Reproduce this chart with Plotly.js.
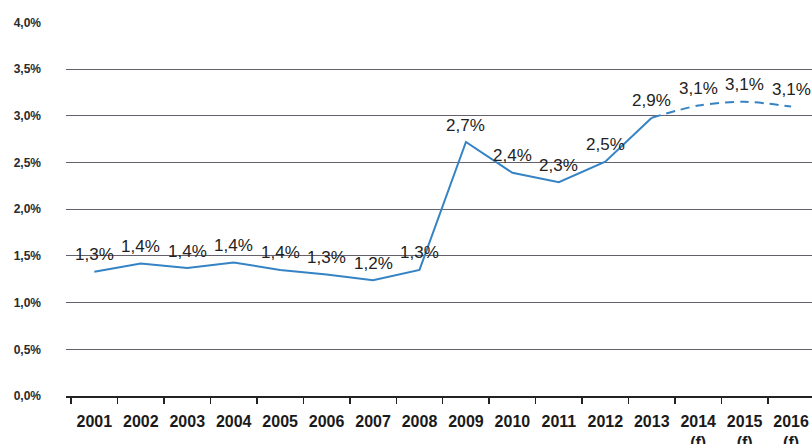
<!DOCTYPE html>
<html>
<head>
<meta charset="utf-8">
<script src="https://cdn.plot.ly/plotly-3.0.1.min.js"></script>
<style>html,body{margin:0;padding:0;background:#fff;}#chart{width:812px;height:444px;}</style>
</head>
<body>
<div id="chart"></div>
<script>
// Categories (x tick labels)
const categories = ['2001','2002','2003','2004','2005','2006','2007','2008','2009','2010','2011','2012','2013','2014<br>(f)','2015<br>(f)','2016<br>(f)'];
// Plotted values (%)
const values = [1.33,1.42,1.37,1.43,1.35,1.30,1.24,1.35,2.72,2.39,2.29,2.51,2.98,3.11,3.15,3.10];
// Data labels as printed
const labels = ['1,3%','1,4%','1,4%','1,4%','1,4%','1,3%','1,2%','1,3%','2,7%','2,4%','2,3%','2,5%','2,9%','3,1%','3,1%','3,1%'];
// Y axis ticks
const yTickVals = [0, 0.5, 1, 1.5, 2, 2.5, 3, 3.5, 4];
const yTickText = ['0,0%','0,5%','1,0%','1,5%','2,0%','2,5%','3,0%','3,5%','4,0%'];
// Index of last actual year (rest are forecasts)
const lastActual = 12;

const lineColor = '#3583c4';
const textFont = {family: 'Liberation Sans, Arial, sans-serif', size: 17, color: '#222'};

const actual = {
  x: categories.slice(0, lastActual + 1),
  y: values.slice(0, lastActual + 1),
  type: 'scatter', mode: 'lines',
  line: {color: lineColor, width: 2},
  hoverinfo: 'skip'
};
const forecast = {
  x: categories.slice(lastActual),
  y: values.slice(lastActual),
  type: 'scatter', mode: 'lines',
  line: {color: lineColor, width: 2, dash: '9px,6px', shape: 'spline', smoothing: 0.8},
  hoverinfo: 'skip'
};

// Annotations positioned by category index (category axis coordinates)
const annotations = categories.map((c, i) => ({
  x: i, y: values[i], xref: 'x', yref: 'y',
  text: labels[i], showarrow: false,
  yshift: 17, yanchor: 'middle', xanchor: 'center',
  font: textFont
}));

const layout = {
  width: 812, height: 444,
  margin: {l: 66, r: 0, t: 22, b: 48},
  paper_bgcolor: '#fff', plot_bgcolor: '#fff',
  showlegend: false,
  xaxis: {
    type: 'category',
    categoryorder: 'array', categoryarray: categories,
    range: [-0.61, 15.45],
    showgrid: false, zeroline: false,
    showline: true, linecolor: '#222', linewidth: 1.5,
    ticks: 'outside', tickson: 'boundaries', ticklen: 6, tickwidth: 1.5, tickcolor: '#222',
    tickangle: 0,
    tickfont: {family: 'Liberation Sans Narrow, Arial Narrow, Liberation Sans, Arial, sans-serif', size: 16, color: '#1a1a1a', weight: 'bold'},
    ticklabelstandoff: 10
  },
  yaxis: {
    range: [0, 4.005],
    tickmode: 'array', tickvals: yTickVals, ticktext: yTickText,
    showgrid: true, gridcolor: '#66606c', gridwidth: 1,
    zeroline: false, showline: false, ticks: '',
    tickfont: {family: 'Liberation Sans, Arial, sans-serif', size: 12, color: '#2a2a2a', weight: 'bold'},
    ticklabelstandoff: 24
  },
  annotations: annotations
};

Plotly.newPlot('chart', [actual, forecast], layout, {displayModeBar: false, staticPlot: true});
</script>
</body>
</html>
